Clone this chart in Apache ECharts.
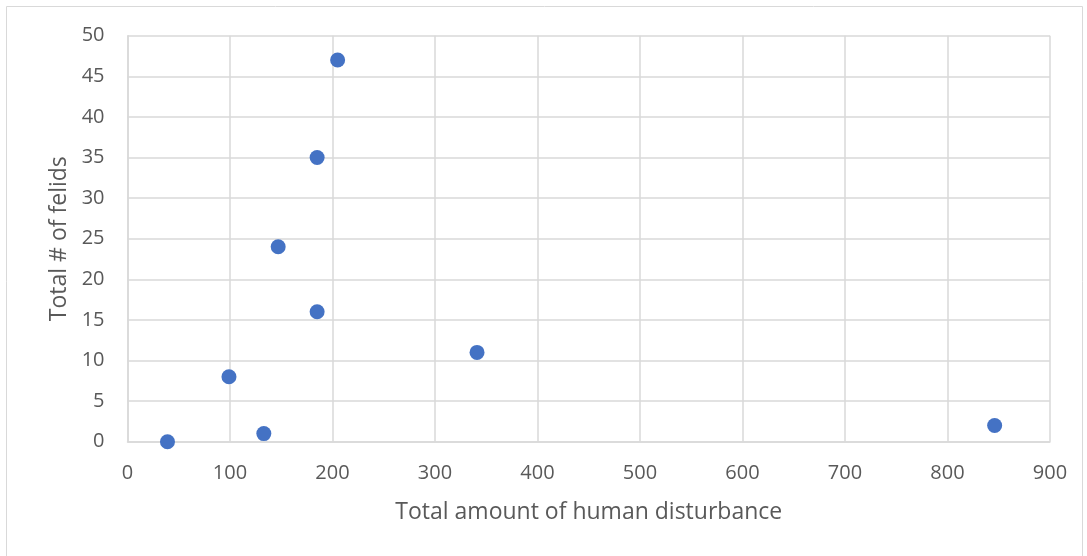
<!DOCTYPE html>
<html><head><meta charset="utf-8">
<script src="https://cdn.jsdelivr.net/npm/echarts@6/dist/echarts.min.js"></script>
<style>html,body{margin:0;padding:0;background:#fff}#c{width:1087px;height:556px}</style>
</head><body><div id="c"></div>
<script>
const disturbance = [39, 99, 133, 147, 185, 185, 205, 341, 846];
const felids = [0, 8, 1, 24, 35, 16, 47, 11, 2];
const xTitle = 'Total amount of human disturbance';
const yTitle = 'Total # of felids';

const chart = echarts.init(document.getElementById('c'), null, {renderer: 'canvas'});
const font = 'Open Sans';
chart.setOption({
  animation: false,
  graphic: [{type: 'rect', shape: {x: 6.5, y: 6.5, width: 1076, height: 560}, style: {fill: 'none', stroke: '#d9d9d9', lineWidth: 1}}],
  grid: {left: 127.5, right: 37, top: 35.7, bottom: 114.3},
  xAxis: {
    type: 'value', min: 0, max: 900, interval: 100,
    name: xTitle, nameLocation: 'middle', nameGap: 59,
    nameTextStyle: {fontFamily: font, fontSize: 23, color: '#595959'},
    axisLine: {show: true, lineStyle: {color: '#d9d9d9', width: 1.5}},
    axisTick: {show: false},
    axisLabel: {fontFamily: font, fontSize: 20, color: '#595959', margin: 22},
    splitLine: {show: true, lineStyle: {color: '#d9d9d9', width: 1.5}}
  },
  yAxis: {
    type: 'value', min: 0, max: 50, interval: 5,
    name: yTitle, nameLocation: 'middle', nameGap: 55, nameRotate: 90,
    nameTextStyle: {fontFamily: font, fontSize: 23, color: '#595959'},
    axisLine: {show: true, lineStyle: {color: '#d9d9d9', width: 1.5}},
    axisTick: {show: false},
    axisLabel: {fontFamily: font, fontSize: 20, color: '#595959', margin: 23},
    splitLine: {show: true, lineStyle: {color: '#d9d9d9', width: 1.5}}
  },
  series: [{
    type: 'scatter',
    data: disturbance.map((x, i) => [x, felids[i]]),
    symbolSize: 15,
    itemStyle: {color: '#4472c4', opacity: 1},
    clip: false
  }]
});
</script></body></html>
